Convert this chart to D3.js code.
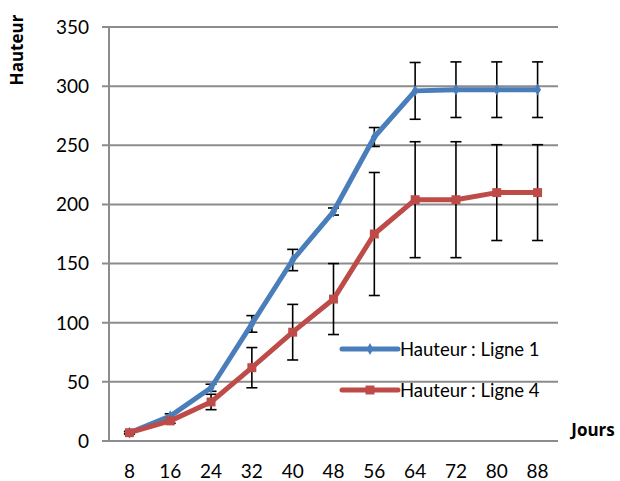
<html>
<head>
<meta charset="utf-8">
<style>
body { margin: 0; background: #fff; }
text { font-family: Lato, "Open Sans", sans-serif; fill: #000; }
.title { font-family: "Open Sans", Lato, sans-serif; font-weight: bold; font-size: 17px; }
.grid line { stroke: #8c8c8c; stroke-width: 2; }
</style>
</head>
<body>
<svg width="620" height="481"></svg>
<script src="https://d3js.org/d3.v7.min.js"></script>
<script>
var jours = [8, 16, 24, 32, 40, 48, 56, 64, 72, 80, 88];
var ligne1 = [7, 21, 45, 99, 153, 194, 257, 296, 297, 297, 297];
var ligne1Err = [1, 2, 3, 7, 9, 3, 8, 24, 23.5, 23.5, 23.5];
var ligne4 = [7, 17, 33, 62, 92, 120, 175, 204, 204, 210, 210];
var ligne4Err = [1, 2, 6.5, 17, 23.5, 30, 52, 49, 49, 40.5, 40.5];
var yTicks = [0, 50, 100, 150, 200, 250, 300, 350];
var seriesNames = ["Hauteur : Ligne 1", "Hauteur : Ligne 4"];
var colors = ["#4a7ebb", "#be4b48"];

var svg = d3.select("svg"),
    margin = {top: 27, right: 62, bottom: 40, left: 109},
    width = 620 - margin.left - margin.right,
    height = 481 - margin.top - margin.bottom;

var x = d3.scaleBand().domain(jours).range([0, width]),
    y = d3.scaleLinear().domain([0, 350]).range([height, 0]);

var g = svg.append("g")
  .attr("transform", "translate(" + margin.left + "," + margin.top + ")");

// gridlines
g.append("g").attr("class", "grid")
  .selectAll("line").data(yTicks).enter().append("line")
  .attr("x1", -7).attr("x2", width)
  .attr("y1", function(d) { return y(d); })
  .attr("y2", function(d) { return y(d); });

g.append("line")
  .attr("x1", 0).attr("x2", 0).attr("y1", 0).attr("y2", height)
  .attr("stroke", "#8c8c8c").attr("stroke-width", 2);

// y labels
g.selectAll(".ylab").data(yTicks).enter().append("text")
  .attr("x", -20).attr("y", function(d) { return y(d); })
  .attr("dy", "0.36em").attr("text-anchor", "end")
  .style("font-size", "19px")
  .text(function(d) { return d; });

// x labels
g.selectAll(".xlab").data(jours).enter().append("text")
  .attr("x", function(d) { return x(d) + x.bandwidth() / 2; })
  .attr("y", height + 30).attr("dy", "0.36em")
  .attr("text-anchor", "middle")
  .style("font-size", "19px")
  .text(function(d) { return d; });

var series = [
  {name: seriesNames[0], vals: ligne1, err: ligne1Err, color: colors[0]},
  {name: seriesNames[1], vals: ligne4, err: ligne4Err, color: colors[1]}
];

function cx(i) { return x(jours[i]) + x.bandwidth() / 2; }

// error bars
series.forEach(function(s) {
  var eb = g.append("g").attr("stroke", "#000").attr("stroke-width", 1.6);
  s.vals.forEach(function(v, i) {
    var top = y(v + s.err[i]), bot = y(v - s.err[i]);
    eb.append("line").attr("x1", cx(i)).attr("x2", cx(i)).attr("y1", top).attr("y2", bot);
    eb.append("line").attr("x1", cx(i) - 5.5).attr("x2", cx(i) + 5.5).attr("y1", top).attr("y2", top);
    eb.append("line").attr("x1", cx(i) - 5.5).attr("x2", cx(i) + 5.5).attr("y1", bot).attr("y2", bot);
  });
});

var line = d3.line()
  .x(function(d, i) { return cx(i); })
  .y(function(d) { return y(d); });

series.forEach(function(s, k) {
  g.append("path").datum(s.vals)
    .attr("fill", "none").attr("stroke", s.color)
    .attr("stroke-width", 5).attr("stroke-linejoin", "round")
    .attr("d", line);
  var sym = k === 0 ? d3.symbolDiamond : d3.symbolSquare;
  var sz = k === 0 ? 40 : 80;
  g.selectAll(".m" + k).data(s.vals).enter().append("path")
    .attr("transform", function(d, i) { return "translate(" + cx(i) + "," + y(d) + ")"; })
    .attr("d", d3.symbol().type(sym).size(sz))
    .attr("fill", s.color);
});

// legend
var legend = svg.selectAll(".legend").data(series).enter().append("g")
  .attr("transform", function(d, i) { return "translate(342," + (349 + i * 41) + ")"; });
legend.append("line")
  .attr("x1", 0).attr("x2", 56)
  .attr("stroke", function(d) { return d.color; })
  .attr("stroke-width", 5).attr("stroke-linecap", "round");
legend.append("path")
  .attr("transform", "translate(28,0)")
  .attr("d", function(d, i) { return d3.symbol().type(i === 0 ? d3.symbolDiamond : d3.symbolSquare).size(i === 0 ? 40 : 80)(); })
  .attr("fill", function(d) { return d.color; });
legend.append("text")
  .attr("x", 58).attr("dy", "0.36em")
  .style("font-size", "18.5px")
  .text(function(d) { return d.name; });

// axis titles
svg.append("text").attr("class", "title")
  .attr("transform", "translate(17,50) rotate(-90)")
  .attr("text-anchor", "middle").attr("dy", "0.36em")
  .text("Hauteur");
svg.append("text").attr("class", "title")
  .attr("x", 593).attr("y", 430).attr("dy", "0.36em")
  .attr("text-anchor", "middle")
  .text("Jours");
</script>
</body>
</html>
